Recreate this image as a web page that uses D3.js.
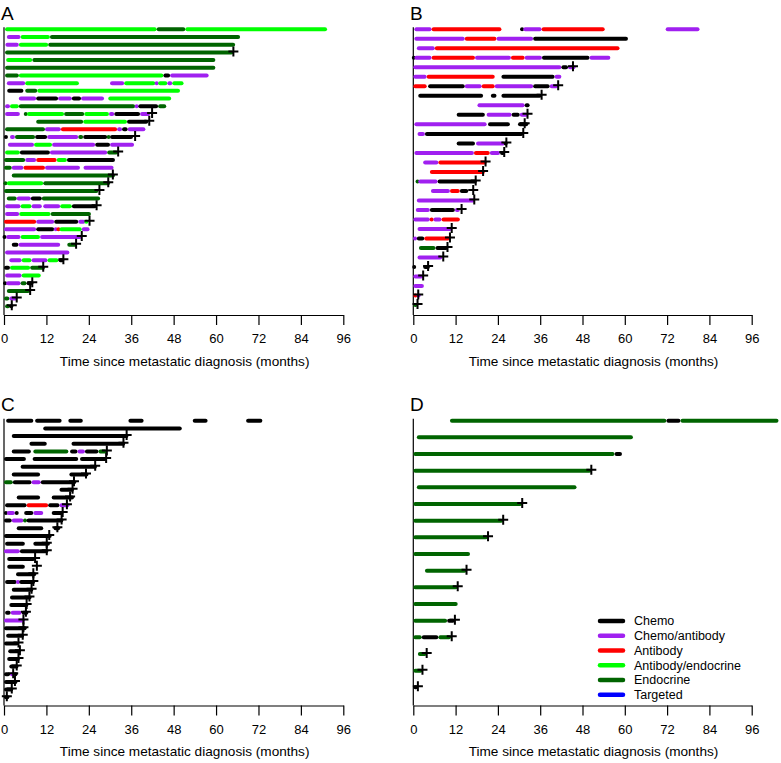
<!DOCTYPE html>
<html><head><meta charset="utf-8">
<script src="https://cdn.jsdelivr.net/npm/d3@7"></script>
<style>body{margin:0;background:#fff} svg{display:block} text{font-family:"Liberation Sans",Arial,sans-serif}</style>
</head><body><svg id="c" width="781" height="763"></svg>
<script>
const treatments = ["Chemo","Chemo/antibody","Antibody","Antibody/endocrine","Endocrine","Targeted"];
const treatmentColors = ["#000000","#A020F0","#FF0000","#00FF00","#006400","#0000FF"];
const monthTicks = [0,12,24,36,48,60,72,84,96];
const xTitle = "Time since metastatic diagnosis (months)";
const panelLabels = ["A","B","C","D"];
// segments: [start month, end month, treatment index]
const segA = [
 [[0.3,43.2,3],[43.2,51.3,4],[51.3,91.4,3]],
 [[0.8,4.7,1],[4.7,13.0,3],[13.0,66.8,4]],
 [[0.4,4.2,1],[4.2,12.5,3],[12.5,65.4,4]],
 [[0.3,64.9,4]],
 [[0.6,8.0,3],[8.0,59.8,4]],
 [[0.3,59.8,4]],
 [[0.3,4.2,4],[4.2,45.1,3],[45.1,47.0,0],[47.0,57.9,1]],
 [[0.8,6.0,1],[6.0,21.2,3],[30.0,34.0,1],[34.0,42.8,3],[42.8,43.6,1],[43.6,46.2,3],[46.2,47.6,1],[47.6,50.8,3]],
 [[0.9,5.5,0],[6.0,9.4,4],[9.4,49.8,3]],
 [[4.2,9.1,1],[9.1,15.3,0],[15.3,19.2,1],[19.2,21.8,0],[21.8,28.3,1],[29.5,47.3,3]],
 [[0.3,1.7,1],[1.7,4.2,3],[4.2,37.1,4],[37.1,38.0,1],[38.0,43.6,0],[43.6,45.9,4]],
 [[0.3,4.5,1],[5.8,6.5,4],[6.5,17.0,3],[17.0,22.7,4],[22.7,29.7,3],[29.7,31.2,1],[31.2,38.5,0],[38.5,41.3,1]],
 [[9.1,22.4,4],[22.4,34.8,3],[34.8,40.8,0]],
 [[0.3,11.6,4],[11.6,16.1,1],[16.1,32.0,2],[32.0,33.4,1],[33.4,35.0,0],[35.0,40.0,1]],
 [[0,1.1,0],[1.7,3.1,1],[3.1,8.8,4],[8.8,12.2,0],[12.2,21.0,1],[21.0,22.4,4],[22.4,29.2,0],[29.2,30.0,4],[30.0,36.5,0]],
 [[1.1,8.5,1],[8.5,13.6,3],[13.6,25.8,1],[25.8,30.0,0],[30.0,36.8,1]],
 [[0.3,4.5,3],[4.5,13.0,0],[13.0,29.2,1],[29.2,32.3,4]],
 [[0,6.0,4],[6.0,9.1,1],[9.1,14.9,2],[14.9,17.8,3],[17.8,31.4,0]],
 [[0,2.2,4],[2.2,5.5,1],[5.5,11.6,2],[11.6,21.5,1],[22.5,31.0,1]],
 [[2.2,31.4,4]],
 [[0,0.8,4],[0.8,11.1,3],[11.1,30.0,4]],
 [[0,26.7,4]],
 [[0.8,3.6,4],[3.6,7.6,1],[7.6,10.7,0],[10.7,27.2,4]],
 [[0.3,4.7,1],[4.7,7.8,3],[7.8,10.7,1],[11.1,15.9,1],[15.9,19.2,3],[19.2,26.2,0]],
 [[0.3,4.3,1],[4.3,13.2,3],[13.2,24.6,4]],
 [[0,9.1,2],[9.1,14.2,1],[14.2,21.0,0],[21.0,23.0,1],[23.0,23.6,3]],
 [[0,9.1,1],[9.1,14.2,0],[14.2,15.1,1],[15.1,15.7,2],[15.7,22.0,3],[22.0,24.2,1]],
 [[0,0.3,0],[0.6,4.7,1],[4.7,10.2,3],[10.2,22.0,1]],
 [[2.2,4.1,0],[4.1,15.9,1],[17.9,20.6,4]],
 [[0.3,18.5,1]],
 [[1.5,5.0,1],[5.0,7.8,3],[7.8,12.3,1],[12.3,15.4,3],[15.4,17.0,0]],
 [[0,1.7,0],[1.7,7.4,3],[7.4,11.6,4]],
 [[0.3,5.0,1],[5.0,10.4,3]],
 [[0,0.6,0],[0.6,4.7,1],[4.7,6.4,4],[6.4,8.3,0]],
 [[0.8,7.4,4]],
 [[0,1.5,4],[1.5,3.8,1]],
 [[0.3,1.7,4],[1.7,2.4,0]]
];
const censA = [null,null,null,64.9,null,null,null,null,null,null,null,41.9,41.1,null,37.1,null,32.3,null,null,30.8,29.5,27.0,null,26.2,null,24.2,null,22.0,20.4,null,16.8,11.1,null,8.0,7.4,3.6,2.2];
const segB = [
 [[0.3,5.2,1],[5.2,25.0,2],[30.5,31.2,0],[31.2,36.4,1],[36.4,54.3,2],[71.6,81.2,1]],
 [[0.3,14.6,1],[14.6,23.6,2],[23.6,34.0,1],[34.0,60.9,0]],
 [[1.0,6.1,1],[6.1,58.5,2]],
 [[0,0.3,0],[0.3,5.2,1],[5.2,17.5,2],[17.5,27.7,1],[27.7,31.6,2],[31.6,36.5,1],[36.5,50.0,0],[50.0,55.9,1]],
 [[0,42.0,1],[42.0,43.9,0],[43.9,46.0,1]],
 [[0,3.8,1],[3.8,23.1,2],[25.0,40.1,0],[40.1,42.0,1]],
 [[0,3.8,2],[4.2,14.6,0],[14.6,19.4,1],[19.4,23.1,2],[23.1,34.0,1],[34.0,38.7,0],[38.7,41.1,1]],
 [[1.4,19.8,0],[22.0,23.6,0],[25.0,36.4,0]],
 [[18.2,31.6,1],[31.6,33.0,0]],
 [[12.3,20.3,0],[20.8,27.9,1],[27.9,30.2,0],[30.2,32.6,1]],
 [[0.3,20.8,1],[21.2,27.4,0],[29.7,32.6,0]],
 [[1.2,3.3,1],[3.3,31.2,0]],
 [[12.3,17.5,0],[17.8,26.0,1],[26.0,26.4,0]],
 [[0.3,17.2,1],[17.2,21.7,2],[21.7,24.6,1],[24.6,26.0,0]],
 [[2.8,7.1,1],[7.1,20.8,2]],
 [[4.7,20.3,2]],
 [[1.0,1.4,4],[1.4,6.9,1],[6.9,18.0,0]],
 [[5.0,10.4,1],[10.4,13.2,2],[13.2,15.6,0]],
 [[1.0,17.5,1]],
 [[0.7,4.7,1],[4.7,11.8,0],[11.8,13.2,1]],
 [[0,4.7,1],[4.7,5.7,2],[5.7,8.0,1],[8.0,13.2,2]],
 [[1.2,10.9,1]],
 [[0,1.0,1],[1.0,3.1,0],[3.1,10.4,2]],
 [[1.6,6.3,4],[6.3,9.9,0]],
 [[1.2,8.2,1]],
 [[0,0.5,0],[2.8,4.7,0]],
 [[0,2.8,1]],
 [[0,3.0,1]],
 [[0,1.2,2],[1.2,1.8,1]],
 [[0,1.2,4]]
];
const censB = [null,null,null,null,45.3,null,41.1,36.4,null,32.4,31.6,31.2,26.4,25.8,20.5,19.8,17.7,17.0,17.3,13.7,null,10.9,10.4,9.7,8.5,4.2,2.8,null,1.4,1.2];
const segC = [
 [[0.6,8.3,0],[8.8,16.3,0],[18.2,22.3,0],[35.2,39.5,0],[53.4,57.6,0],[68.5,73.1,0]],
 [[11.1,50.3,0]],
 [[2.2,35.2,0]],
 [[7.2,12.1,0],[19.1,34.3,0]],
 [[2.2,7.6,0],[8.3,18.2,4],[18.7,20.8,0],[20.8,22.9,1],[22.9,26.7,0],[26.7,29.1,4]],
 [[0,6.2,0],[8.1,21.0,0],[21.5,29.1,0]],
 [[4.7,26.3,0]],
 [[2.2,10.2,0],[18.5,23.9,0]],
 [[0,2.5,4],[2.5,7.8,0],[7.8,10.4,1],[10.4,20.4,0]],
 [[15.7,19.8,0]],
 [[3.6,10.2,0],[13.5,19.8,0]],
 [[0.3,6.4,0],[6.4,12.5,2],[12.5,15.7,0],[15.7,18.5,1]],
 [[0.3,0.8,0],[0.8,3.1,1],[3.1,4.1,0],[5.7,8.3,0],[8.3,11.1,1],[13.5,16.8,0]],
 [[0,2.2,0],[2.2,5.5,1],[5.5,6.4,4],[6.4,16.8,0]],
 [[3.6,11.1,0],[14.0,15.9,0]],
 [[0,13.5,0]],
 [[0.3,5.9,0],[8.3,13.0,0]],
 [[0,4.5,1],[4.5,12.5,0]],
 [[0.9,8.8,0]],
 [[0.9,5.9,0]],
 [[3.4,9.1,0]],
 [[0.3,3.6,0],[3.6,4.3,1],[4.3,8.8,0]],
 [[2.2,8.3,0]],
 [[1.7,7.8,0]],
 [[1.5,6.9,0]],
 [[0.3,1.9,0],[1.9,5.0,1],[5.0,6.9,0]],
 [[0,5.9,1]],
 [[0,6.4,0]],
 [[0.6,5.7,0]],
 [[0,4.1,0]],
 [[1.2,4.7,0]],
 [[0.9,4.5,0]],
 [[1.5,4.1,0]],
 [[0,1.7,0],[1.7,3.1,1],[3.1,3.4,0]],
 [[0,3.8,0]],
 [[0,2.6,0]],
 [[0,1.5,0]]
];
const censC = [null,null,34.7,33.8,29.1,28.9,25.8,23.2,19.8,19.4,18.7,17.8,16.6,16.3,15.1,12.8,12.1,12.1,8.8,9.3,8.3,8.3,7.8,7.2,6.4,6.2,5.5,5.5,5.3,4.1,4.5,4.1,3.6,2.6,3.1,2.2,0.8];
const segD = [
 [[10.4,71.8,4],[71.8,75.8,0],[75.8,103.6,4]],
 [[1.0,62.3,4]],
 [[0,57.1,4],[57.1,59.2,0]],
 [[0,50.5,4]],
 [[1.0,46.3,4]],
 [[0,30.9,4]],
 [[0,25.5,4]],
 [[0,21.2,4]],
 [[0,16.1,4]],
 [[3.3,15.1,4]],
 [[0,12.6,4]],
 [[0,12.6,4]],
 [[0,9.6,4],[9.6,11.8,0]],
 [[0,2.4,4],[2.4,7.1,0],[7.1,10.7,4]],
 [[1.3,3.8,4]],
 [[0,2.6,4]],
 [[0,1.3,0]]
];
const censD = [null,null,null,50.5,null,30.9,25.5,21.2,null,15.1,12.6,null,11.8,10.9,3.8,2.6,1.3];

const panels = [
 {segs:segA, cens:censA, x0:4,     x1:343.3, yTop:29.3,  yBot:306.3, axisY:315,   lx:1,   ly:20},
 {segs:segB, cens:censB, x0:413.3, x1:751.7, yTop:29.3,  yBot:305,   axisY:315,   lx:410, ly:20},
 {segs:segC, cens:censC, x0:4,     x1:343.3, yTop:420.7, yBot:697.3, axisY:705.5, lx:1,   ly:411},
 {segs:segD, cens:censD, x0:413.3, x1:751.7, yTop:420.7, yBot:687.3, axisY:705.5, lx:410, ly:411}
];

const svg = d3.select("#c");
const BAR = 4;
panels.forEach((p, pi) => {
  const x = d3.scaleLinear().domain([0, 96]).range([p.x0, p.x1]);
  const y = d3.scaleLinear().domain([0, p.segs.length - 1]).range([p.yTop, p.yBot]);
  const g = svg.append("g");
  // y axis line
  g.append("line").attr("x1", p.x0).attr("x2", p.x0).attr("y1", p.yTop - 2).attr("y2", p.axisY)
    .attr("stroke", "#000").attr("stroke-width", 1.2);
  // bars
  p.segs.forEach((row, ri) => {
    row.forEach(s => {
      let a = x(s[0]), b = x(s[1]);
      const h = BAR / 2;
      if (b - a > BAR) { a += h; b -= h; } else { const m = (a + b) / 2; a = m - 0.01; b = m + 0.01; }
      g.append("line").attr("x1", a).attr("x2", b).attr("y1", y(ri)).attr("y2", y(ri))
        .attr("stroke", treatmentColors[s[2]]).attr("stroke-width", BAR).attr("stroke-linecap", "round");
    });
  });
  // censor marks
  p.cens.forEach((c, ri) => {
    if (c === null) return;
    const cx = x(c), cy = y(ri) - 1;
    g.append("path").attr("d", `M${cx - 5},${cy}H${cx + 5}M${cx},${cy - 5}V${cy + 5}`)
      .attr("stroke", "#000").attr("stroke-width", 2).attr("fill", "none");
  });
  // x axis
  const ax = g.append("g").attr("transform", `translate(0,${p.axisY})`)
    .call(d3.axisBottom(x).tickValues(monthTicks).tickSize(10).tickPadding(9).tickSizeOuter(0));
  ax.select(".domain").attr("stroke-width", 1.2);
  ax.selectAll(".tick line").attr("stroke-width", 1.2);
  ax.selectAll("text").attr("font-size", 13).attr("font-family", '"Liberation Sans",Arial,sans-serif');
  g.append("text").attr("x", (p.x0 + p.x1) / 2 + 11).attr("y", p.axisY + 50.5)
    .attr("text-anchor", "middle").attr("font-size", 13.6).text(xTitle);
  g.append("text").attr("x", p.lx).attr("y", p.ly).attr("font-size", 19).text(panelLabels[pi]);
});

// legend
const lg = svg.append("g");
const legY = d3.scaleLinear().domain([0, treatments.length - 1]).range([621, 694.7]);
treatments.forEach((t, i) => {
  lg.append("line").attr("x1", 600).attr("x2", 623).attr("y1", legY(i)).attr("y2", legY(i))
    .attr("stroke", treatmentColors[i]).attr("stroke-width", 4.5).attr("stroke-linecap", "round");
  lg.append("text").attr("x", 634).attr("y", legY(i)).attr("dy", "0.35em").attr("font-size", 12.5).text(t);
});
</script></body></html>
